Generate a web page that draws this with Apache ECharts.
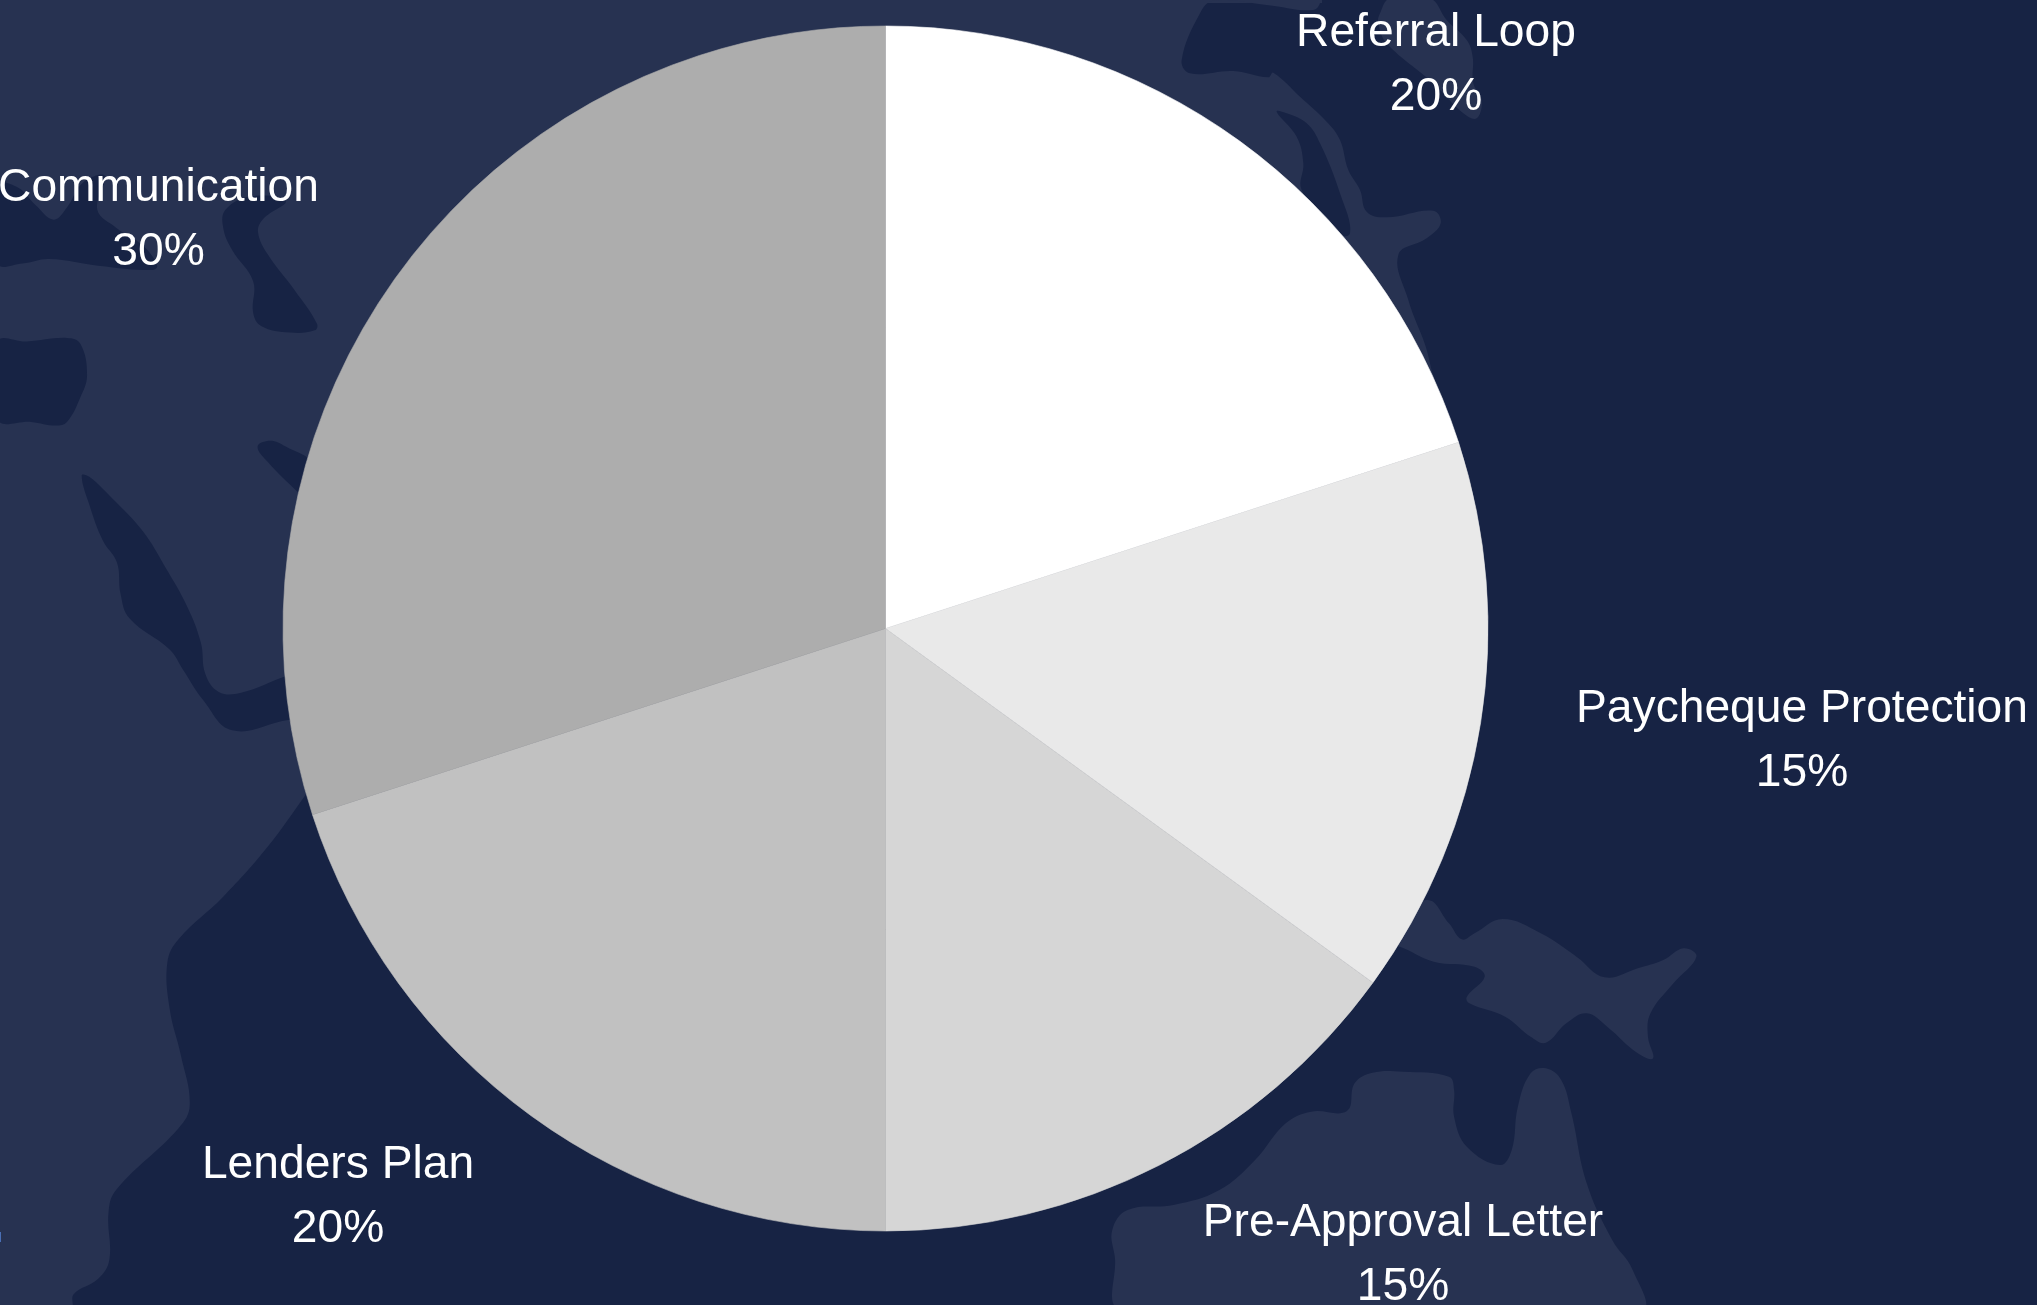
<!DOCTYPE html>
<html>
<head>
<meta charset="utf-8">
<style>html,body{margin:0;padding:0;background:#172344;overflow:hidden}#c{width:2037px;height:1305px}</style>
<script src="https://cdn.jsdelivr.net/npm/echarts@6/dist/echarts.min.js"></script>
</head>
<body>
<div id="c"></div>
<script>
const categories = ['Referral Loop', 'Paycheque Protection', 'Pre-Approval Letter', 'Lenders Plan', 'Communication'];
const shares = [20, 15, 15, 20, 30];
const sliceColors = ['#ffffff', '#e9e9e9', '#d6d6d6', '#c1c1c1', '#adadad'];
const labelCentres = [[1436, 65.5], [1802, 741.5], [1403, 1255.5], [338, 1197.5], [158.5, 220.5]];

const DARK = '#172344', LIGHT = '#273251';
const conv = (p, sx, sy, ox, oy) => p.map(q => [ox + q[0] / sx, oy + q[1] / sy]);
const z1 = p => conv(p, 2.24, 2.24, 0, 0);
const z2 = p => conv(p, 2.24, 2.592, 0, 700);
const z3 = p => conv(p, 1.96, 3, 1000, 850);
const z4 = p => conv(p, 3, 3, 1100, 0);

const mainLand = [[-5, -5], [1322, -5]].concat(
  z4([[665, 0], [640, 30], [500, 15], [340, 2], [300, 40], [245, 180], [270, 220], [400, 213], [505, 232], [520, 218], [600, 290], [680, 365], [720, 420], [745, 510], [780, 570], [800, 635], [860, 652], [1000, 632], [1022, 670], [980, 715], [895, 765], [925, 900], [990, 1090], [1000, 1300]]),
  [[885, 628], [450, 600], [345, 740]],
  z2([[685, 245], [600, 380], [500, 510], [400, 620], [375, 680], [380, 800], [405, 920], [425, 1050], [400, 1110], [260, 1270], [243, 1330], [245, 1450], [220, 1500], [165, 1540], [158, 1580]]),
  [[-5, 1310]]
);
const lightIslands = [
  z4([[840, 40], [870, -5], [990, -5], [1040, 60], [1100, 120], [1118, 170], [1120, 250], [1145, 300], [1130, 355], [1090, 340], [1000, 250], [860, 130], [835, 70]]),
  z3([[835, 150], [880, 220], [905, 268], [930, 250], [985, 207], [1060, 250], [1130, 320], [1185, 382], [1250, 355], [1300, 330], [1340, 295], [1365, 320], [1320, 400], [1275, 490], [1270, 560], [1280, 625], [1250, 610], [1190, 530], [1150, 490], [1110, 520], [1070, 578], [1040, 560], [990, 500], [920, 460], [915, 440], [950, 380], [930, 350], [850, 335], [780, 288], [700, 260]]),
  z3([[240, 1380], [225, 1220], [220, 1140], [250, 1080], [340, 1065], [430, 1020], [500, 930], [560, 820], [610, 785], [680, 783], [695, 700], [730, 668], [790, 665], [880, 680], [890, 720], [890, 800], [915, 890], [980, 945], [1003, 900], [1015, 770], [1040, 670], [1070, 655], [1100, 690], [1120, 790], [1150, 1000], [1200, 1170], [1240, 1260], [1255, 1380]])
];
const darkLakes = [
  z1([[-5, 415], [40, 420], [80, 460], [120, 492], [150, 465], [180, 415], [215, 393], [235, 395], [218, 470], [260, 510], [320, 550], [352, 595], [340, 605], [220, 595], [110, 580], [50, 590], [-5, 590]]),
  z1([[505, 470], [500, 510], [520, 560], [567, 630], [567, 700], [585, 730], [650, 745], [705, 740], [710, 725], [660, 650], [600, 570], [578, 520], [590, 490], [640, 450], [560, 440]]),
  z1([[-5, 765], [60, 765], [150, 757], [180, 770], [195, 840], [180, 890], [150, 945], [125, 953], [70, 945], [-5, 940]]),
  z1([[577, 1000], [605, 987], [640, 1000], [700, 1040], [700, 1130], [670, 1105], [600, 1035]]),
  z1([[183, 1065], [200, 1068], [250, 1115], [320, 1190], [370, 1270], [420, 1360], [450, 1440], [460, 1510], [490, 1550], [540, 1552], [640, 1515], [760, 1480], [760, 1600], [645, 1613], [520, 1636], [455, 1568], [410, 1500], [380, 1455], [290, 1385], [270, 1330], [262, 1260], [230, 1210], [200, 1130]]),
  z4([[530, 335], [560, 340], [620, 370], [660, 430], [720, 580], [750, 700], [700, 700], [605, 570], [610, 490], [590, 410]])
];
const poly = (pts, fill) => ({ type: 'polygon', silent: true, shape: { points: pts, smooth: 0.4 }, style: { fill: fill } });
const block = (x, y, width, height, fill) => ({ type: 'rect', silent: true, shape: { x, y, width, height }, style: { fill } });

const chart = echarts.init(document.getElementById('c'), null, { width: 2037, height: 1305 });
chart.setOption({
  backgroundColor: DARK,
  animation: false,
  graphic: { elements: [
    block(0, 0, 1000, 650, LIGHT),
    block(0, 0, 1322, 3, LIGHT),
    block(0, 0, 60, 1305, LIGHT),
    poly(mainLand, LIGHT),
    ...lightIslands.map(p => poly(p, LIGHT)),
    ...darkLakes.map(p => poly(p, DARK)),
    block(0, 1232, 1, 10, '#4a6fb5')
  ] },
  series: [{
    type: 'pie',
    center: [885.5, 628.5],
    radius: 602.5,
    startAngle: 90,
    clockwise: true,
    avoidLabelOverlap: false,
    silent: true,
    z: 5,
    data: categories.map((name, i) => ({
      name, value: shares[i],
      itemStyle: { color: sliceColors[i], borderColor: sliceColors[i], borderWidth: 0.6 }
    })),
    label: {
      show: true,
      position: 'outside',
      formatter: '{b}\n{c}%',
      color: '#ffffff',
      fontFamily: '"Liberation Sans", Arial, sans-serif',
      fontSize: 46.2,
      lineHeight: 64,
      align: 'center'
    },
    labelLine: { show: false },
    labelLayout: p => ({
      x: labelCentres[p.dataIndex][0],
      y: labelCentres[p.dataIndex][1],
      align: 'center',
      verticalAlign: 'middle',
      hideOverlap: false
    })
  }]
});
</script>
</body>
</html>
